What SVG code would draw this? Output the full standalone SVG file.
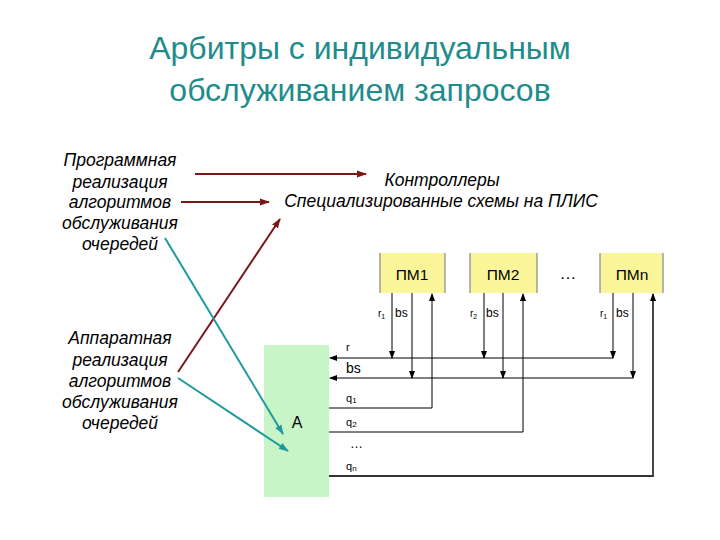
<svg xmlns="http://www.w3.org/2000/svg" width="720" height="540" viewBox="0 0 720 540">
<defs>
<style>
.title{font-family:"Liberation Sans",Arial,sans-serif;font-size:32px;fill:#1f8c8c;text-anchor:middle}
.it{font-family:"Liberation Sans",Arial,sans-serif;font-size:17.5px;font-style:italic;fill:#000;text-anchor:middle}
.lb{font-family:"Liberation Sans",Arial,sans-serif;fill:#000}
.w{stroke:#000;stroke-width:1;fill:none}
.red{stroke:#7a1818;stroke-width:2;fill:none}
.teal{stroke:#1f9a9a;stroke-width:2;fill:none}
.pm{fill:#fbf59a}
.edge{stroke:#888;stroke-width:1.2}
</style>
<marker id="ab" markerWidth="8" markerHeight="8" refX="7" refY="4" orient="auto" markerUnits="userSpaceOnUse"><path d="M0,1 L8,4 L0,7 z" fill="#000"/></marker>
<marker id="ar" markerWidth="10" markerHeight="8" refX="9" refY="4" orient="auto" markerUnits="userSpaceOnUse"><path d="M0,0.5 L10,4 L0,7.5 z" fill="#7a1818"/></marker>
<marker id="at" markerWidth="10" markerHeight="8" refX="9" refY="4" orient="auto" markerUnits="userSpaceOnUse"><path d="M0,0.5 L10,4 L0,7.5 z" fill="#1f9a9a"/></marker>
</defs>
<rect width="720" height="540" fill="#fff"/>
<g id="title">
<text class="title" x="360" y="59">Арбитры с индивидуальным</text>
<text class="title" x="360" y="101">обслуживанием запросов</text>
</g>
<g id="soft">
<text class="it" x="120" y="166">Программная</text>
<text class="it" x="120" y="188">реализация</text>
<text class="it" x="120" y="208">алгоритмов</text>
<text class="it" x="120" y="229">обслуживания</text>
<text class="it" x="120" y="250">очередей</text>
</g>
<g id="hard">
<text class="it" x="120" y="344">Аппаратная</text>
<text class="it" x="120" y="366">реализация</text>
<text class="it" x="120" y="387">алгоритмов</text>
<text class="it" x="120" y="408">обслуживания</text>
<text class="it" x="120" y="429">очередей</text>
</g>
<g id="targets">
<text class="it" x="442" y="186">Контроллеры</text>
<text class="it" x="441" y="207">Специализированные схемы на ПЛИС</text>
</g>
<g id="A">
<rect x="264" y="345" width="65" height="152" fill="#c8f5c8"/>
<text class="lb" x="297" y="428" font-size="16" text-anchor="middle">A</text>
</g>
<g id="PM1">
<rect class="pm" x="380" y="253" width="65" height="40"/>
<line class="edge" x1="380" y1="253" x2="380" y2="293"/><line class="edge" x1="445" y1="253" x2="445" y2="293"/>
<text class="lb" x="412" y="280" font-size="15.5" text-anchor="middle">ПМ1</text>
</g>
<g id="PM2">
<rect class="pm" x="470" y="253" width="67" height="40"/>
<line class="edge" x1="470" y1="253" x2="470" y2="293"/><line class="edge" x1="537" y1="253" x2="537" y2="293"/>
<text class="lb" x="503" y="280" font-size="15.5" text-anchor="middle">ПМ2</text>
</g>
<text class="lb" x="568" y="279" font-size="17" text-anchor="middle">…</text>
<g id="PMn">
<rect class="pm" x="600" y="253" width="63" height="40"/>
<line class="edge" x1="600" y1="253" x2="600" y2="293"/><line class="edge" x1="663" y1="253" x2="663" y2="293"/>
<text class="lb" x="632" y="280" font-size="15.5" text-anchor="middle">ПМn</text>
</g>
<g id="labels" class="lb" font-size="10">
<text x="378" y="317">r<tspan font-size="7" dy="2">1</tspan></text>
<text x="395" y="317" font-size="12">bs</text>
<text x="470" y="317">r<tspan font-size="7" dy="2">2</tspan></text>
<text x="486" y="317" font-size="12">bs</text>
<text x="600" y="317">r<tspan font-size="7" dy="2">1</tspan></text>
<text x="616" y="317" font-size="12">bs</text>
<text x="346" y="351" font-size="11">r</text>
<text x="346" y="373" font-size="14">bs</text>
<text x="346" y="402" font-size="11">q<tspan font-size="8" dy="1">1</tspan></text>
<text x="346" y="426" font-size="11">q<tspan font-size="8" dy="1">2</tspan></text>
<text x="350" y="448" font-size="13">…</text>
<text x="346" y="470" font-size="11">q<tspan font-size="8" dy="1">n</tspan></text>
</g>
<g id="connectors">
<line class="red" x1="195" y1="174" x2="366" y2="174" marker-end="url(#ar)"/>
<line class="red" x1="181" y1="202" x2="269" y2="202" marker-end="url(#ar)"/>
<line class="red" x1="178" y1="372" x2="280" y2="219" marker-end="url(#ar)"/>
<line class="teal" x1="165" y1="238" x2="283" y2="434" marker-end="url(#at)"/>
<line class="teal" x1="178" y1="378" x2="288" y2="451" marker-end="url(#at)"/>
<line class="w" x1="613" y1="358" x2="330" y2="358" marker-end="url(#ab)"/>
<line class="w" x1="633" y1="378" x2="330" y2="378" marker-end="url(#ab)"/>
<line class="w" x1="392" y1="293" x2="392" y2="358" marker-end="url(#ab)"/>
<line class="w" x1="484" y1="293" x2="484" y2="358" marker-end="url(#ab)"/>
<line class="w" x1="613" y1="293" x2="613" y2="358" marker-end="url(#ab)"/>
<line class="w" x1="412" y1="293" x2="412" y2="378" marker-end="url(#ab)"/>
<line class="w" x1="503" y1="293" x2="503" y2="378" marker-end="url(#ab)"/>
<line class="w" x1="633" y1="293" x2="633" y2="378" marker-end="url(#ab)"/>
<polyline class="w" points="329,408 432,408 432,294" marker-end="url(#ab)"/>
<polyline class="w" points="329,432 523,432 523,294" marker-end="url(#ab)"/>
<polyline points="329,476 653,476 653,294" fill="none" stroke="#333" stroke-width="1.8" marker-end="url(#ab)"/>
</g>
</svg>
